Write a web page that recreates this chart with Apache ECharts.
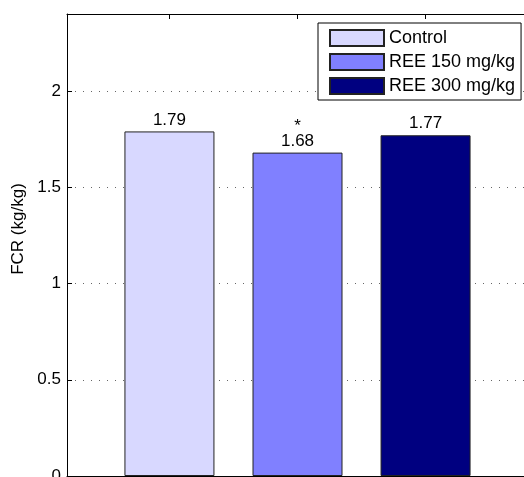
<!DOCTYPE html>
<html>
<head>
<meta charset="utf-8">
<script src="https://cdn.jsdelivr.net/npm/echarts@6/dist/echarts.min.js"></script>
<style>
  html, body { margin: 0; padding: 0; background: #fff; }
  #chart { width: 524px; height: 477px; }
</style>
</head>
<body>
<div id="chart"></div>
<script>
// Feed conversion ratio per treatment group
const groups = ['Control', 'REE 150 mg/kg', 'REE 300 mg/kg'];
const positions = [1, 2, 3];
const fcrValues = [1.79, 1.68, 1.77];
const significance = ['', '*', ''];
const barColors = ['#d8d8ff', '#8080ff', '#000080'];
const yTicks = [0, 0.5, 1, 1.5, 2];

const FONT = 'Liberation Sans, Arial, sans-serif';

const chart = echarts.init(document.getElementById('chart'));

const series = groups.map((name, i) => ({
  name: name,
  type: 'bar',
  barWidth: 90,
  barGap: '-100%',
  data: [[positions[i], fcrValues[i]]],
  itemStyle: { color: barColors[i], borderColor: '#222', borderWidth: 1 },
  label: {
    show: true,
    position: 'top',
    distance: 3,
    color: '#000',
    fontFamily: FONT,
    fontSize: 17,
    formatter: (p) => {
      const v = p.value[1].toFixed(2);
      return significance[i] ? '{s|' + significance[i] + '}\n{v|' + v + '}' : v;
    },
    rich: {
      s: { fontFamily: FONT, fontSize: 17, lineHeight: 12, color: '#000' },
      v: { fontFamily: FONT, fontSize: 17, lineHeight: 17, color: '#000' }
    }
  }
}));

chart.setOption({
  animation: false,
  backgroundColor: '#fff',
  grid: { left: 67, top: 14, width: 461, height: 462, outerBoundsMode: 'none', containLabel: false },
  xAxis: [
    {
      type: 'value', position: 'bottom', min: 0.2, max: 3.8,
      axisLine: { show: true, lineStyle: { color: '#000', width: 1 } },
      axisTick: { show: true, inside: true, length: 5, customValues: positions, lineStyle: { color: '#000' } },
      axisLabel: { show: false },
      splitLine: { show: false }
    },
    {
      type: 'value', position: 'top', min: 0.2, max: 3.8,
      axisLine: { show: true, onZero: false, lineStyle: { color: '#000', width: 1 } },
      axisTick: { show: true, inside: true, length: 5, customValues: positions, lineStyle: { color: '#000' } },
      axisLabel: { show: false },
      splitLine: { show: false }
    }
  ],
  yAxis: {
    type: 'value', min: 0, max: 2.4, interval: 0.5,
    axisLine: { show: true, lineStyle: { color: '#000', width: 1 } },
    axisTick: { show: true, inside: true, length: 5, customValues: yTicks, lineStyle: { color: '#000' } },
    axisLabel: {
      customValues: yTicks,
      color: '#000', fontFamily: FONT, fontSize: 17, margin: 6,
      formatter: (v) => String(v)
    },
    splitLine: { show: true, lineStyle: { color: '#666', width: 1, type: [1, 7] } }
  },
  legend: {
    orient: 'vertical',
    left: 318, top: 23,
    padding: [6, 6, 5, 11],
    itemWidth: 54, itemHeight: 16, itemGap: 6,
    backgroundColor: '#fff',
    borderColor: '#000', borderWidth: 1, borderRadius: 0,
    textStyle: { color: '#000', fontFamily: FONT, fontSize: 18, lineHeight: 16 },
    data: groups.map((g) => ({ name: g, icon: 'rect' }))
  },
  graphic: [{
    type: 'text',
    x: 18, y: 229,
    rotation: Math.PI / 2,
    style: {
      text: 'FCR (kg/kg)',
      fontFamily: FONT, fontSize: 17, fill: '#000',
      align: 'center', verticalAlign: 'middle'
    }
  }],
  series: series
});
</script>
</body>
</html>
